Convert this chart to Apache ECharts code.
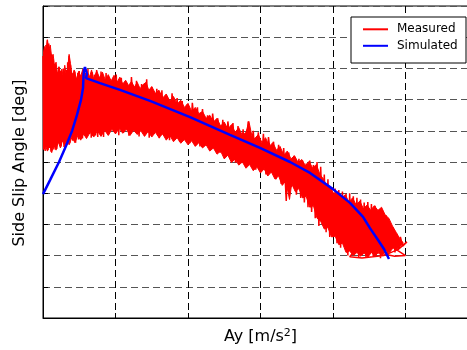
<!DOCTYPE html>
<html>
<head>
<meta charset="utf-8">
<script src="https://cdn.jsdelivr.net/npm/echarts@6/dist/echarts.min.js"></script>
<style>
  html, body { margin: 0; padding: 0; background: #fff; }
  #chart { width: 467px; height: 350px; }
</style>
</head>
<body>
<div id="chart"></div>
<script>
// Axis ranges (grid units, no tick labels drawn)
const xRange = { min: 0, max: 6, step: 1 };
const yRange = { min: 0, max: 10, step: 1 };

const xTitle = '{b|Ay [m/s}{sup|2}{b|]}';
const yTitle = 'Side Slip Angle [deg]';
const seriesNames = ['Measured', 'Simulated'];

// Measured trace [Ay, side slip]
const measured = [
  [0.000,8.40],[0.010,5.40],[0.020,8.60],[0.030,5.35],[0.040,8.75],[0.050,5.50],[0.060,8.90],[0.070,5.38],
  [0.080,8.80],[0.090,5.45],[0.100,8.55],[0.110,5.33],[0.120,8.45],[0.130,6.10],[0.140,8.30],[0.150,5.40],
  [0.160,8.15],[0.170,5.55],[0.180,8.00],[0.190,5.42],[0.200,7.88],[0.210,5.60],[0.220,8.05],[0.230,6.20],
  [0.240,7.92],[0.250,5.50],[0.260,7.80],[0.270,5.65],[0.280,8.00],[0.290,5.48],[0.300,7.70],[0.310,5.70],
  [0.320,7.95],[0.330,5.55],[0.340,8.20],[0.350,5.75],[0.360,8.40],[0.370,5.60],[0.380,8.10],[0.390,6.30],
  [0.400,7.85],[0.410,5.68],[0.420,7.75],[0.430,5.80],[0.440,7.90],[0.450,5.62],[0.460,7.65],[0.470,6.00],
  [0.480,7.85],[0.490,5.72],[0.500,7.92],[0.515,5.85],[0.530,7.70],[0.545,5.75],[0.560,7.95],[0.575,6.20],
  [0.590,7.85],[0.605,5.80],[0.620,7.98],[0.635,5.90],[0.650,7.72],[0.665,5.78],[0.680,7.88],[0.695,6.40],
  [0.710,7.80],[0.725,5.85],[0.740,7.95],[0.755,5.80],[0.770,7.68],[0.785,5.92],[0.800,7.90],
  [0.835,5.80],[0.870,7.85],[0.905,5.88],[0.940,7.60],[0.975,6.30],[1.010,7.80],[1.045,5.86],[1.080,7.70],
  [1.115,5.95],[1.150,7.55],[1.185,5.84],[1.220,7.72],[1.255,6.40],[1.290,7.60],[1.325,5.82],[1.360,7.50],
  [1.395,5.90],[1.430,7.65],[1.465,5.78],[1.500,7.40],[1.535,6.20],[1.570,7.35],[1.605,5.76],[1.640,7.30],
  [1.675,5.85],[1.710,7.10],[1.745,5.70],[1.780,7.20],[1.815,6.10],[1.850,7.05],[1.885,5.65],[1.920,6.95],
  [1.955,5.72],[1.990,6.85],[2.025,5.60],[2.060,6.90],[2.095,6.05],[2.130,6.75],[2.165,5.50],[2.200,6.70],
  [2.235,5.55],[2.270,6.50],[2.305,5.40],[2.340,6.55],[2.375,5.80],[2.410,6.40],[2.445,5.30],[2.480,6.35],
  [2.515,5.15],[2.550,6.30],[2.585,5.60],[2.620,6.25],[2.655,4.98],[2.690,6.15],[2.725,5.00],[2.760,6.05],
  [2.795,4.85],[2.830,6.30],[2.865,5.40],[2.900,6.00],[2.935,4.75],[2.970,5.95],[3.005,4.70],[3.040,5.90],
  [3.075,4.60],[3.110,5.80],[3.145,5.10],[3.180,5.65],[3.215,4.45],[3.250,5.55],[3.285,4.30],[3.320,5.45],
  [3.355,3.75],[3.390,5.30],[3.425,4.20],[3.460,5.20],[3.495,3.95],[3.530,5.10],
  [3.555,3.85],[3.580,5.05],[3.605,3.70],[3.630,4.95],[3.655,3.55],[3.680,5.05],[3.705,3.40],[3.730,4.90],
  [3.755,3.20],[3.780,5.00],[3.805,2.95],[3.830,4.85],[3.855,3.30],[3.880,4.60],[3.905,2.75],[3.930,4.45],
  [3.955,2.60],[3.980,4.20],[4.005,2.90],[4.030,4.15],[4.055,2.40],[4.080,4.10],[4.105,2.25],[4.130,4.05],
  [4.155,2.60],[4.180,3.98],[4.205,2.00],[4.230,4.00],[4.255,2.10],[4.280,3.90],[4.305,2.45],[4.330,3.85],
  [4.355,1.95],[4.380,3.80],[4.405,2.05],[4.430,3.70],[4.455,1.93],[4.480,3.72],[4.505,2.30],[4.530,3.65],
  [4.555,1.95],[4.580,3.60],[4.605,2.05],[4.630,3.40],[4.655,1.92],[4.680,3.20],[4.705,2.20],[4.730,3.30],
  [4.755,2.00],[4.780,3.00],[4.805,2.25],[4.830,2.90],[4.855,2.10],[4.880,2.70],[4.905,2.20],[4.930,2.60],
  [4.960,2.30],[5.020,2.44],[4.900,2.20],[4.700,2.00],[4.400,1.92],[4.230,1.96],[4.350,2.30],[4.600,2.60],
  [4.800,2.30],[5.000,2.00],[4.850,1.98],[4.500,2.15]
];

// Dense core of the measured cloud: ragged upper and lower edges [Ay, side slip]
const measuredUpper = [
  [0.00,8.40],[0.02,8.70],[0.04,8.55],[0.06,8.92],[0.08,8.60],[0.10,8.75],[0.12,8.35],[0.14,8.45],
  [0.16,8.05],[0.18,8.20],[0.20,7.80],[0.22,8.05],[0.24,7.85],[0.26,7.98],[0.28,7.70],[0.30,8.10],
  [0.32,7.80],[0.34,8.00],[0.36,8.45],[0.38,8.15],[0.40,7.75],[0.43,7.95],[0.46,7.65],[0.49,7.90],
  [0.52,7.75],[0.55,7.98],[0.58,7.70],[0.61,7.90],[0.64,7.72],[0.67,7.95],[0.70,7.65],[0.74,7.92],
  [0.78,7.70],[0.82,7.88],[0.86,7.62],[0.90,7.80],[0.94,7.60],[0.98,7.78],[1.02,7.55],[1.06,7.72],
  [1.10,7.50],[1.14,7.62],[1.18,7.45],[1.22,7.58],[1.26,7.40],[1.30,7.55],[1.34,7.35],[1.38,7.48],
  [1.42,7.55],[1.46,7.30],[1.50,7.42],[1.55,7.20],[1.60,7.30],[1.65,7.05],[1.70,7.18],[1.75,6.95],
  [1.80,7.10],[1.85,6.85],[1.90,6.98],[1.95,6.75],[2.00,6.88],[2.05,6.62],[2.10,6.75],[2.15,6.55],
  [2.20,6.62],[2.25,6.40],[2.30,6.50],[2.35,6.28],[2.40,6.40],[2.45,6.15],[2.50,6.28],[2.55,6.05],
  [2.60,6.20],[2.65,5.95],[2.70,6.10],[2.75,5.85],[2.80,5.95],[2.84,6.30],[2.88,5.85],[2.92,5.75],
  [2.97,5.88],[3.02,5.62],[3.07,5.78],[3.12,5.50],[3.17,5.62],[3.22,5.38],[3.27,5.50],[3.32,5.22],
  [3.37,5.35],[3.42,5.10],[3.47,5.20],[3.52,4.98],[3.57,5.08],[3.62,4.88],[3.67,5.02],[3.72,4.80],
  [3.77,4.92],[3.82,4.60],[3.87,4.45],[3.92,4.20],[3.97,4.15],[4.02,3.95],[4.07,4.05],[4.12,3.85],
  [4.17,3.95],[4.22,3.72],[4.27,3.85],[4.32,3.62],[4.37,3.75],[4.42,3.50],[4.47,3.62],[4.52,3.45],
  [4.57,3.60],[4.62,3.45],[4.67,3.55],[4.72,3.30],[4.77,3.20],[4.82,2.95],[4.87,2.75],[4.92,2.55],
  [4.97,2.40]
];
const measuredLower = [
  [0.00,5.40],[0.03,5.55],[0.06,5.35],[0.09,5.60],[0.12,5.30],[0.15,5.55],[0.18,5.38],[0.21,5.65],
  [0.24,5.45],[0.27,5.70],[0.30,5.50],[0.33,5.75],[0.36,5.55],[0.40,5.80],[0.44,5.62],[0.48,5.85],
  [0.52,5.70],[0.56,5.90],[0.60,5.75],[0.65,5.95],[0.70,5.80],[0.75,6.00],[0.80,5.82],[0.85,6.02],
  [0.90,5.85],[0.95,6.05],[1.00,5.90],[1.05,6.08],[1.10,5.92],[1.15,6.05],[1.20,5.85],[1.25,6.02],
  [1.30,5.88],[1.35,6.00],[1.40,5.82],[1.45,5.98],[1.50,5.80],[1.55,5.95],[1.60,5.78],[1.65,5.90],
  [1.70,5.70],[1.75,5.85],[1.80,5.65],[1.85,5.78],[1.90,5.60],[1.95,5.72],[2.00,5.55],[2.05,5.68],
  [2.10,5.50],[2.15,5.62],[2.20,5.45],[2.25,5.55],[2.30,5.35],[2.35,5.45],[2.40,5.25],[2.45,5.35],
  [2.50,5.10],[2.55,5.22],[2.60,4.98],[2.65,5.10],[2.70,4.90],[2.75,5.00],[2.80,4.80],[2.85,4.92],
  [2.90,4.72],[2.95,4.85],[3.00,4.65],[3.05,4.78],[3.10,4.55],[3.15,4.68],[3.20,4.45],[3.25,4.55],
  [3.30,4.25],[3.35,4.40],[3.40,3.80],[3.43,4.30],[3.48,4.05],[3.53,4.15],[3.58,3.85],[3.63,3.90],
  [3.68,3.55],[3.73,3.60],[3.78,3.20],[3.83,3.10],[3.88,2.85],[3.93,2.90],[3.98,2.60],[4.03,2.62],
  [4.08,2.35],[4.13,2.40],[4.18,2.10],[4.23,2.15],[4.28,2.00],[4.33,2.10],[4.38,1.98],[4.43,2.08],
  [4.48,1.95],[4.53,2.10],[4.58,1.98],[4.63,2.12],[4.68,2.02],[4.73,2.15],[4.78,2.10],[4.83,2.25],
  [4.88,2.20],[4.93,2.30],[4.97,2.40]
];

// Simulated response [Ay, side slip]
const simulated = [
  [0.000,3.97],[0.097,4.42],[0.221,5.00],[0.317,5.51],[0.400,5.99],[0.469,6.51],[0.524,6.99],[0.552,7.37],
  [0.559,7.76],[0.566,7.95],[0.579,8.04],[0.600,7.98],[0.607,7.82],[0.593,7.69],[0.579,7.66],[0.607,7.66],
  [0.786,7.53],[1.062,7.31],[1.476,6.96],[2.028,6.44],[2.579,5.87],[2.993,5.45],[3.407,5.00],[3.683,4.65],
  [4.000,4.13],[4.234,3.69],[4.414,3.24],[4.510,2.88],[4.621,2.50],[4.703,2.21],[4.772,1.89]
];

const FONT = '"DejaVu Sans", "Liberation Sans", Arial, sans-serif';

const chart = echarts.init(document.getElementById('chart'), null, { renderer: 'canvas' });

chart.setOption({
  animation: false,
  backgroundColor: '#ffffff',
  grid: {
    left: 43, top: 6, width: 435, height: 312,
    outerBoundsMode: 'none', containLabel: false,
    show: true, borderColor: '#000', borderWidth: 1, backgroundColor: 'transparent'
  },
  xAxis: {
    type: 'value', min: xRange.min, max: xRange.max, interval: xRange.step,
    axisLine: { show: true, onZero: false, lineStyle: { color: '#000', width: 1 } },
    axisTick: { show: true, inside: true, length: 5, lineStyle: { color: '#000' } },
    axisLabel: { show: false },
    splitLine: { show: true, lineStyle: { color: '#000', type: [7, 4], width: 1 } }
  },
  yAxis: {
    type: 'value', min: yRange.min, max: yRange.max, interval: yRange.step,
    axisLine: { show: true, onZero: false, lineStyle: { color: '#000', width: 1 } },
    axisTick: { show: true, inside: true, length: 5, lineStyle: { color: '#000' } },
    axisLabel: { show: false },
    splitLine: { show: true, lineStyle: { color: '#555', type: [7, 4], width: 1 } }
  },
  legend: {
    left: 358, top: 17.3, orient: 'vertical', z: 20,
    itemWidth: 25, itemHeight: 2, itemGap: 2.5, icon: 'rect',
    data: seriesNames,
    textStyle: { fontFamily: FONT, fontSize: 12, color: '#000', lineHeight: 14, padding: [0, 0, 0, 4] }
  },
  graphic: [
    {
      type: 'rect', z: 15,
      shape: { x: 351, y: 17, width: 115, height: 46 },
      style: { fill: '#fff', stroke: '#000', lineWidth: 1 }
    },
    {
      type: 'text', z: 15,
      x: 20, y: 163, rotation: Math.PI / 2,
      style: {
        text: yTitle, fontFamily: FONT, fontSize: 16, fill: '#000',
        align: 'center', verticalAlign: 'middle', textAlign: 'center', textVerticalAlign: 'middle'
      }
    },
    {
      type: 'text', z: 15,
      x: 260.5, y: 337,
      style: {
        text: xTitle, fill: '#000',
        align: 'center', verticalAlign: 'middle', textAlign: 'center', textVerticalAlign: 'middle',
        rich: {
          b: { fontFamily: FONT, fontSize: 16, lineHeight: 18, verticalAlign: 'middle', fill: '#000' },
          sup: { fontFamily: FONT, fontSize: 11, lineHeight: 11, verticalAlign: 'top', fill: '#000' }
        }
      }
    }
  ],
  series: [
    {
      // filled core of the measured cloud, drawn through the axes' scales
      type: 'custom', silent: true, z: 1, clip: true,
      data: [[0, 0]],
      renderItem: function (params, api) {
        if (params.dataIndex !== 0) return null;
        const pts = measuredUpper.map(function (p) { return api.coord(p); })
          .concat(measuredLower.slice().reverse().map(function (p) { return api.coord(p); }));
        return { type: 'polygon', shape: { points: pts }, style: { fill: '#ff0000', stroke: '#ff0000', lineWidth: 1 } };
      }
    },
    {
      name: seriesNames[0], type: 'line', data: measured,
      showSymbol: false, symbol: 'none', z: 2,
      itemStyle: { color: '#ff0000' },
      lineStyle: { color: '#ff0000', width: 1.5 }
    },
    {
      name: seriesNames[1], type: 'line', data: simulated,
      showSymbol: false, symbol: 'none', z: 3,
      itemStyle: { color: '#0000ff' },
      lineStyle: { color: '#0000ff', width: 2.5 }
    }
  ]
});
</script>
</body>
</html>
